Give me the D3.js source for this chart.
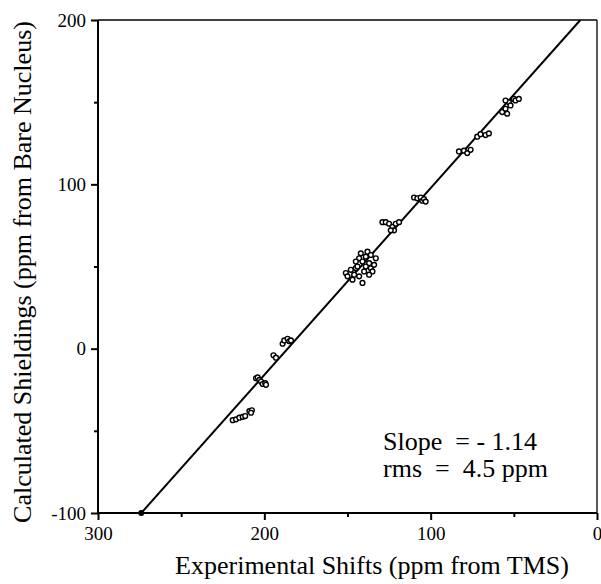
<!DOCTYPE html>
<html>
<head>
<meta charset="utf-8">
<script src="https://cdn.jsdelivr.net/npm/d3@7"></script>
<style>
  body { margin: 0; background: #fff; }
  text { font-family: "Liberation Serif", "Times New Roman", serif; fill: #000; }
</style>
</head>
<body>
<div id="chart"></div>
<script>
// Data
var expShifts = [219, 217, 215, 213, 211.5, 209, 207.5, 208,
  205, 204, 203, 202, 201, 199.5, 199,
  194.5, 193,
  189, 188, 186, 185, 184,
  151, 150, 148, 147, 146, 145, 144, 143, 142, 141, 140, 139, 138, 137, 136, 135, 134, 133, 143, 141, 145, 139, 137, 136,
  129, 127, 125, 123, 122, 121, 119, 124,
  110, 108, 106, 105, 104, 103,
  83, 80, 78, 76,
  72, 70, 67, 65,
  57, 55, 53, 52, 50, 49, 47, 55, 54];
var calcShieldings = [-43.5, -43, -42, -41.5, -41, -38, -37.5, -39,
  -18, -17.5, -19, -20, -21.5, -21, -22,
  -4, -5.5,
  3, 5, 6, 4.5, 5,
  46, 44, 48, 42, 45, 49, 50, 55, 58, 53, 47, 56, 59, 52, 49, 47, 51, 55, 44, 40, 53, 50, 45, 57,
  77, 77, 76, 74, 72, 76, 77, 72,
  92, 91.5, 92, 90, 91, 89.5,
  120, 120.5, 119, 121,
  129, 130.5, 130, 131,
  144, 146, 150, 148, 152, 151, 152, 151, 143];
var fitLine = [[274, -100], [10, 200]];
var xTicks = [300, 200, 100, 0];
var xMinor = [250, 150, 50];
var yTicks = [-100, 0, 100, 200];
var yMinor = [-50, 50, 150];

var points = expShifts.map(function(d, i) { return {x: d, y: calcShieldings[i]}; });

var svgWidth = 601;
var svgHeight = 584;
var margin = {top: 20, right: 4, bottom: 71, left: 98};
var width = svgWidth - margin.left - margin.right;
var height = svgHeight - margin.top - margin.bottom;

var svg = d3.select("#chart")
  .append("svg")
  .attr("width", svgWidth)
  .attr("height", svgHeight);

var chartGroup = svg.append("g")
  .attr("transform", `translate(${margin.left}, ${margin.top})`);

var xScale = d3.scaleLinear().domain([300, 0]).range([0, width]);
var yScale = d3.scaleLinear().domain([-100, 200]).range([height, 0]);

// frame: thin top and right
chartGroup.append("line")
  .attr("x1", 0).attr("x2", width).attr("y1", 0).attr("y2", 0)
  .attr("stroke", "#000").attr("stroke-width", 1.3);
chartGroup.append("line")
  .attr("x1", width).attr("x2", width).attr("y1", 0).attr("y2", height)
  .attr("stroke", "#000").attr("stroke-width", 1.3);

// axes (plain hyphen for negatives, like the original)
var fmt = d => String(d);
var bottomAxis = d3.axisBottom(xScale).tickValues(xTicks).tickSize(7).tickPadding(7).tickFormat(fmt);
var leftAxis = d3.axisLeft(yScale).tickValues(yTicks).tickSize(7).tickPadding(5).tickFormat(fmt);

var xAxisG = chartGroup.append("g")
  .attr("transform", `translate(0, ${height})`)
  .call(bottomAxis);
var yAxisG = chartGroup.append("g").call(leftAxis);

chartGroup.append("g")
  .attr("transform", `translate(0, ${height})`)
  .call(d3.axisBottom(xScale).tickValues(xMinor).tickSize(4).tickFormat(""))
  .select(".domain").remove();
chartGroup.append("g")
  .call(d3.axisLeft(yScale).tickValues(yMinor).tickSize(4).tickFormat(""))
  .select(".domain").remove();

chartGroup.selectAll(".domain, .tick line")
  .attr("stroke", "#000").attr("stroke-width", 2);
chartGroup.selectAll(".tick text")
  .style("font-family", "'Liberation Serif', 'Times New Roman', serif")
  .style("font-size", "19px");
xAxisG.selectAll(".domain").attr("d", `M0,0H${width}`);
yAxisG.selectAll(".domain").attr("d", `M0,0V${height}`);

// fit line
chartGroup.append("line")
  .attr("x1", xScale(fitLine[0][0])).attr("y1", yScale(fitLine[0][1]))
  .attr("x2", xScale(fitLine[1][0])).attr("y2", yScale(fitLine[1][1]))
  .attr("stroke", "#000").attr("stroke-width", 2);
chartGroup.append("circle")
  .attr("cx", xScale(fitLine[0][0])).attr("cy", yScale(fitLine[0][1]))
  .attr("r", 3).attr("fill", "#000");

// data points
chartGroup.append("g").selectAll("circle")
  .data(points)
  .enter()
  .append("circle")
  .attr("cx", d => xScale(d.x))
  .attr("cy", d => yScale(d.y))
  .attr("r", 2.4)
  .attr("fill", "#fff")
  .attr("stroke", "#000")
  .attr("stroke-width", 1.4);

// annotation
chartGroup.append("text")
  .attr("x", 285).attr("y", 430)
  .style("font-size", "26px")
  .style("white-space", "pre")
  .text("Slope  = - 1.14");
chartGroup.append("text")
  .attr("x", 285).attr("y", 457)
  .style("font-size", "26px")
  .style("white-space", "pre")
  .text("rms  =  4.5 ppm");

// axis titles
svg.append("text")
  .attr("x", 372).attr("y", 574)
  .attr("text-anchor", "middle")
  .style("font-size", "26px")
  .text("Experimental Shifts (ppm from TMS)");

svg.append("text")
  .attr("transform", "translate(31, 272) rotate(-90)")
  .attr("text-anchor", "middle")
  .style("font-size", "26px")
  .text("Calculated Shieldings (ppm from Bare Nucleus)");
</script>
</body>
</html>
